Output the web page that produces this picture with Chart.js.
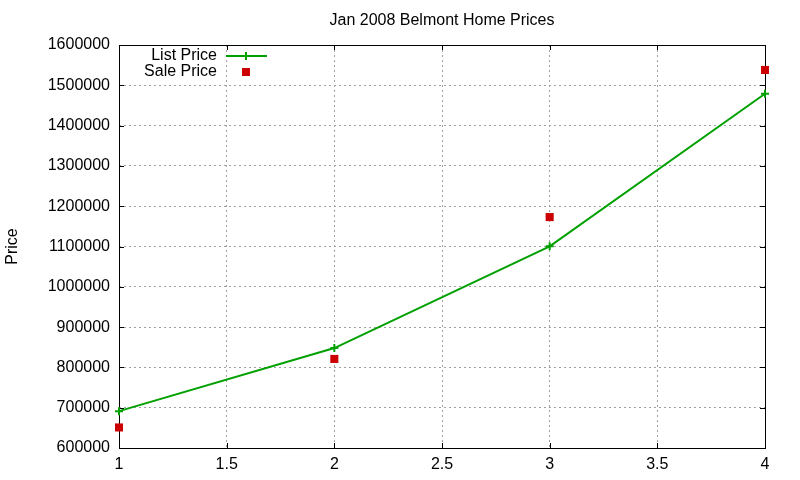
<!DOCTYPE html>
<html>
<head>
<meta charset="utf-8">
<script src="https://cdn.jsdelivr.net/npm/chart.js@4/dist/chart.umd.min.js"></script>
<style>
  html, body { margin: 0; padding: 0; background: #fff; }
  #wrap { width: 800px; height: 480px; }
</style>
</head>
<body>
<div id="wrap"><canvas id="chartPrices"></canvas></div>
<script>
var months = [1, 2, 3, 4];
var listPrice = [691500, 848000, 1100500, 1479000];
var salePrice = [651000, 821000, 1173000, 1538000];
var xTicks = [1, 1.5, 2, 2.5, 3, 3.5, 4];
var yTicks = [600000, 700000, 800000, 900000, 1000000, 1100000, 1200000, 1300000, 1400000, 1500000, 1600000];

var font = 'Liberation Sans, Arial, sans-serif';
var green = '#00a000';
var red = '#cc0000';

// gnuplot style frame: border box and short inward ticks on all four sides
var framePlugin = {
    id: 'frame',
    beforeDatasetsDraw: function (chart) {
        var c = chart.ctx, a = chart.chartArea;
        var xs = chart.scales.x, ys = chart.scales.y;
        c.save();
        c.strokeStyle = '#000';
        c.lineWidth = 1;
        c.beginPath();
        xTicks.forEach(function (v) {
            var px = Math.round(xs.getPixelForValue(v)) + 0.5;
            c.moveTo(px, a.bottom); c.lineTo(px, a.bottom - 5);
            c.moveTo(px, a.top); c.lineTo(px, a.top + 5);
        });
        yTicks.forEach(function (v) {
            var py = Math.round(ys.getPixelForValue(v)) + 0.5;
            c.moveTo(a.left, py); c.lineTo(a.left + 5, py);
            c.moveTo(a.right, py); c.lineTo(a.right - 5, py);
        });
        c.stroke();
        c.strokeRect(Math.round(a.left) + 0.5, Math.round(a.top) + 0.5,
            Math.round(a.right - a.left), Math.round(a.bottom - a.top));
        c.restore();
    },
    afterDraw: function (chart) {
        // key in the top left corner, like gnuplot's
        var c = chart.ctx;
        c.save();
        c.font = '16px ' + font;
        c.fillStyle = '#000';
        c.textAlign = 'right';
        c.textBaseline = 'middle';
        c.fillText('List Price', 217, 56);
        c.fillText('Sale Price', 217, 72);
        c.strokeStyle = green;
        c.lineWidth = 2;
        c.beginPath();
        c.moveTo(226, 56); c.lineTo(267, 56);
        c.moveTo(246, 52); c.lineTo(246, 60);
        c.stroke();
        c.fillStyle = red;
        c.fillRect(242, 68, 8, 8);
        c.restore();
    }
};

var ctx = document.getElementById('chartPrices').getContext('2d');
var myChart = new Chart(ctx, {
    type: 'scatter',
    plugins: [framePlugin],
    data: {
        datasets: [{
            label: 'List Price',
            data: months.map(function (m, i) { return { x: m, y: listPrice[i] }; }),
            showLine: true,
            clip: false,
            borderColor: green,
            backgroundColor: green,
            borderWidth: 2,
            pointStyle: 'cross',
            pointRadius: 4,
            pointBorderWidth: 2,
            tension: 0
        }, {
            label: 'Sale Price',
            data: months.map(function (m, i) { return { x: m, y: salePrice[i] }; }),
            showLine: false,
            clip: false,
            borderColor: red,
            backgroundColor: red,
            pointStyle: 'rect',
            pointRadius: 5.7,
            pointBorderWidth: 0
        }]
    },
    options: {
        responsive: true,
        maintainAspectRatio: false,
        animation: false,
        layout: { padding: { top: 0, right: 35, bottom: 0, left: 0 } },
        plugins: {
            legend: { display: false },
            tooltip: { enabled: false },
            title: {
                display: true,
                fullSize: false,
                text: 'Jan 2008 Belmont Home Prices',
                color: '#000',
                font: { family: font, size: 16, weight: 'normal' },
                padding: { top: 11, bottom: 14.8 }
            }
        },
        scales: {
            x: {
                type: 'linear',
                min: 1,
                max: 4,
                afterBuildTicks: function (s) { s.ticks = xTicks.map(function (v) { return { value: v }; }); },
                afterFit: function (s) { s.height = 32; },
                grid: { color: '#a0a0a0', drawTicks: false },
                border: { display: false, dash: [2, 3] },
                ticks: { color: '#000', padding: 7, font: { family: font, size: 16 },
                    callback: function (v) { return String(v); } }
            },
            y: {
                min: 600000,
                max: 1600000,
                afterBuildTicks: function (s) { s.ticks = yTicks.map(function (v) { return { value: v }; }); },
                afterFit: function (s) { s.width = 119; },
                grid: { color: '#a0a0a0', drawTicks: false },
                border: { display: false, dash: [2, 3] },
                title: {
                    display: true,
                    text: 'Price',
                    color: '#000',
                    font: { family: font, size: 16 },
                    padding: { top: 3, bottom: 4 }
                },
                ticks: { color: '#000', padding: 9, font: { family: font, size: 16 },
                    callback: function (v) { return String(v); } }
            }
        }
    }
});
</script>
</body>
</html>
